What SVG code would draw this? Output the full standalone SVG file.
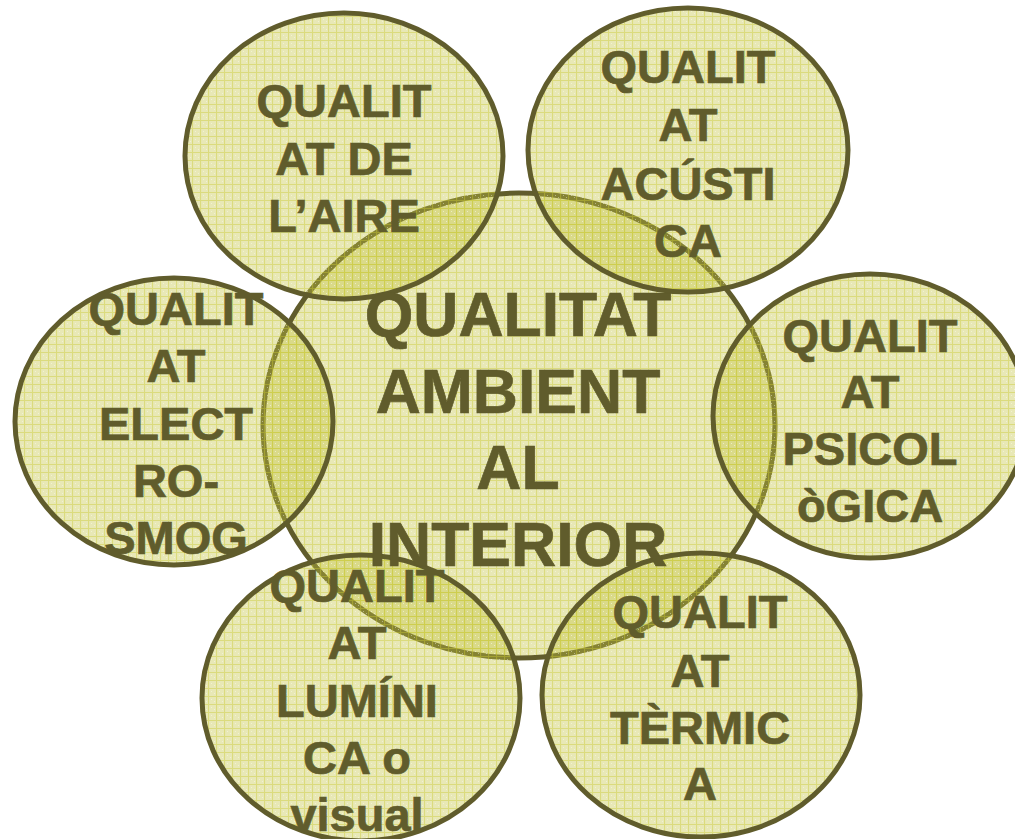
<svg xmlns="http://www.w3.org/2000/svg" width="1015" height="839" viewBox="0 0 1015 839">
  <defs>
    <pattern id="grid" width="8" height="8" patternUnits="userSpaceOnUse">
      <rect width="8" height="8" fill="#C2C23E" fill-opacity="0.38"/>
      <path d="M0 0.5H8M0.5 0V8" stroke="#C8C830" stroke-width="1.2" stroke-opacity="0.42" fill="none"/>
      <rect x="3" y="3" width="1" height="1" fill="#ffffff" fill-opacity="0.4"/>
      <rect x="6" y="5" width="1" height="1" fill="#ffffff" fill-opacity="0.4"/>
    </pattern>
  </defs>
  <style>
    .c { fill: url(#grid); stroke: #605C2C; stroke-width: 5; }
    .t { font-family: "Liberation Sans", Arial, sans-serif; font-weight: bold; fill: #605C2C; stroke: #605C2C; stroke-width: 0.7; text-anchor: middle; }
    .o { font-size: 47px; }
    .m { font-size: 62.5px; }
  </style>
  <rect width="1015" height="839" fill="#ffffff"/>
  <g id="connectors"></g>
  <g id="node-center">
    <ellipse class="c" cx="519" cy="425.5" rx="256" ry="232.5"/>
  </g>
  <g id="node-aire">
    <ellipse class="c" cx="344" cy="156" rx="159" ry="143"/>
    <text class="t o" x="344" y="117">QUALIT</text>
    <text class="t o" x="344" y="175">AT DE</text>
    <text class="t o" x="344" y="232">L’AIRE</text>
  </g>
  <g id="node-acustica">
    <ellipse class="c" cx="688" cy="150" rx="160" ry="142"/>
    <text class="t o" x="688" y="83">QUALIT</text>
    <text class="t o" x="688" y="141">AT</text>
    <text class="t o" x="688" y="200">ACÚSTI</text>
    <text class="t o" x="688" y="257">CA</text>
  </g>
  <g id="node-psicologica">
    <ellipse class="c" cx="870" cy="416" rx="157" ry="142"/>
    <text class="t o" x="870" y="352">QUALIT</text>
    <text class="t o" x="870" y="408">AT</text>
    <text class="t o" x="870" y="465">PSICOL</text>
    <text class="t o" x="870" y="522">òGICA</text>
  </g>
  <g id="node-electrosmog">
    <ellipse class="c" cx="174" cy="421.5" rx="159" ry="143.5"/>
    <text class="t o" x="176" y="325">QUALIT</text>
    <text class="t o" x="176" y="382">AT</text>
    <text class="t o" x="176" y="440">ELECT</text>
    <text class="t o" x="176" y="497">RO-</text>
    <text class="t o" x="176" y="554">SMOG</text>
  </g>
  <g id="node-luminica">
    <ellipse class="c" cx="361" cy="698" rx="159" ry="143"/>
    <text class="t o" x="357" y="602">QUALIT</text>
    <text class="t o" x="357" y="659">AT</text>
    <text class="t o" x="357" y="717">LUMÍNI</text>
    <text class="t o" x="357" y="774">CA o</text>
    <text class="t o" x="357" y="831">visual</text>
  </g>
  <g id="node-termica">
    <ellipse class="c" cx="701" cy="695" rx="159" ry="142"/>
    <text class="t o" x="700" y="628">QUALIT</text>
    <text class="t o" x="700" y="687">AT</text>
    <text class="t o" x="700" y="744">TÈRMIC</text>
    <text class="t o" x="700" y="800">A</text>
  </g>
  <g id="node-center-label">
    <text class="t m" x="518" y="336">QUALITAT</text>
    <text class="t m" x="518" y="413">AMBIENT</text>
    <text class="t m" x="518" y="489">AL</text>
    <text class="t m" x="518" y="566">INTERIOR</text>
  </g>
</svg>
